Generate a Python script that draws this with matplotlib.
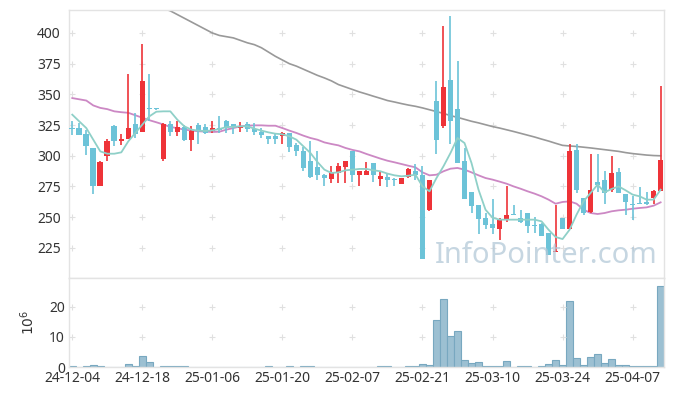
import numpy as np
import pandas as pd
import matplotlib
matplotlib.use("Agg")
import matplotlib.pyplot as plt

plt.rcParams['font.family'] = ['Noto Sans', 'DejaVu Sans']

# trading days (KRX holidays removed)
holidays = ['2024-12-25', '2024-12-31', '2025-01-01', '2025-01-27', '2025-01-28',
            '2025-01-29', '2025-01-30', '2025-03-03']
dates = [d for d in pd.bdate_range('2024-12-04', '2025-04-11') if d.strftime('%Y-%m-%d') not in holidays]

opens = [323, 323, 318, 306, 275, 300, 324, 312, 314, 326, 319, 339, 338.5, 297, 326, 319, 323.5, 313, 325, 323.5,
         320.5, 323, 328.5, 325.5, 322.5, 326, 321.5, 319.5, 316.5, 316.5, 316.5, 318.5, 308.5, 304, 296, 291, 284.5, 281.5, 286, 290.5,
         304, 284, 284, 294.5, 281.5, 283, 281.5, 277, 283, 287.5, 284, 255.5, 345, 324.5, 362, 338.5, 296, 270.5, 260, 249,
         244.5, 240, 247.5, 252.5, 249.5, 253.5, 244, 244.5, 237, 222, 249, 240, 305, 265.5, 254, 279, 280, 272.5, 286.5, 269,
         261, 261.5, 262, 266, 271]
highs = [328, 327, 321, 306, 296, 314, 325, 318, 367, 335, 391, 367, 338.5, 326.5, 328, 328, 325, 324.5, 327, 326,
         328, 332, 329.5, 326, 327.5, 327.5, 326.5, 322.5, 316.5, 318.5, 319.5, 318.5, 310.5, 307.5, 312, 303.5, 285, 292, 294.5, 296,
         304, 288, 295, 294.5, 287.5, 286, 282, 282, 290, 293, 291.5, 280, 360.5, 406, 413.5, 377.5, 306.5, 270.5, 260, 253.5,
         264.5, 249.5, 275.5, 260, 256, 253.5, 250.5, 245, 237.5, 260, 249, 310, 310, 265.5, 301.5, 301.5, 287.5, 300, 290, 269,
         267, 274.5, 270.5, 272.5, 356.5]
lows = [317, 317, 301, 269, 275, 296, 308, 308.5, 314, 314.5, 319, 328, 337.5, 296, 316, 316.5, 312, 304, 309.5, 318,
        318.5, 318.5, 318.5, 318, 319.5, 319.5, 317, 314.5, 309.5, 309.5, 309.5, 303, 299.5, 287.5, 282, 280.5, 275, 278, 278, 278,
        278.5, 275, 284, 278.5, 275, 274.5, 275, 277, 282, 280.5, 216, 255, 301.5, 322.5, 309.5, 294.5, 265, 253.5, 236, 240,
        236, 231.5, 246, 251.5, 245.5, 237, 237, 234.5, 219.5, 221.5, 240, 240, 270, 252, 253.5, 270.5, 261, 270.5, 270, 252,
        248, 260.5, 260, 261, 271]
closes = [322, 317, 308, 275, 295, 312, 312, 314, 323, 318, 361, 338, 338, 326, 319, 323.5, 313, 320, 321, 318.5,
          323, 321, 322.5, 324, 324.5, 322, 319, 317, 313.5, 313.5, 318.5, 307.5, 303.5, 290, 282.5, 284, 282, 286, 292, 296,
          284, 287.5, 287.5, 284, 283.5, 280.5, 280.5, 282, 289, 284, 216, 280, 312.5, 356, 328, 294.5, 265, 259, 248.5, 244,
          241.5, 247.5, 252, 252, 246, 243, 243, 234.5, 219.5, 222.7, 240, 304, 272, 253.5, 272.5, 276.5, 270, 286, 270, 262,
          260, 260.5, 261, 271, 296.5]
ma5 = [333.5, 328, 322.6, 313.1, 303.6, 301.7, 301.7, 302.8, 311.8, 318.6, 325.4, 332.1, 335.9, 336.2, 336.2, 329.4, 324, 321.3, 320.5, 320.2,
       320.7, 321.8, 323.4, 323.6, 324, 324, 322.1, 320.5, 319.1, 318, 317.5, 315.9, 313.1, 307.7, 302.3, 295, 288.7, 286, 286.5, 288.2,
       288.7, 289.3, 289.3, 288.2, 287.4, 285.5, 284.1, 283.3, 283.8, 284.6, 275.1, 271.1, 281.9, 291.5, 302.3, 314.5, 310.4, 294.1, 272.4, 256.1,
       249.6, 248, 248, 248, 248, 248, 248, 246.6, 239.8, 233.9, 232.2, 239.8, 252.1, 263, 269.7, 276.5, 270.3, 273, 275.1, 271.9,
       268.4, 267, 264.3, 264.3, 272.4]
ma20 = [347, 346, 345, 341, 339, 338, 336.2, 335.5, 335, 333, 331, 329, 327.3, 325.5, 323.5, 322.5, 321.3, 320.6, 320, 319.7,
        319.4, 319.6, 321.3, 322.6, 324, 324.5, 324.8, 324.8, 324.5, 324.5, 322.6, 320.5, 318.6, 316.4, 314.5, 313.1, 310.9, 309.6, 308.5, 306.4,
        304.8, 303.6, 301.5, 299.6, 297.7, 296, 294.7, 293.3, 291.9, 290.6, 286.5, 284.1, 284.6, 287.4, 289.5, 290.1, 288.7, 286.5, 284.1, 281.9,
        280.6, 279, 277.3, 275.1, 273.2, 271.1, 269.2, 267, 264.3, 261, 262.4, 262.9, 261, 256.1, 253.4, 252.6, 253.4, 254.8, 255.6, 256.1,
        256.9, 257.5, 258, 259.4, 262.1]
ma60 = [452, 450, 447, 445, 442, 440, 437, 434, 431, 429, 426, 424, 422, 420, 418, 415, 412, 409, 406, 403,
        400, 398, 397, 396, 394, 392, 390.5, 388, 384.5, 381, 378, 375, 373, 370.5, 368, 365.5, 363.4, 361, 358, 356,
        354, 352, 350.3, 348.5, 346.8, 345, 343.8, 342.5, 341.3, 340.3, 339, 337.5, 336, 334.5, 332.7, 331.3, 329.7, 328.1, 326.8, 325.3,
        323.8, 322.6, 321.2, 319.8, 318.3, 316.8, 315.3, 313.6, 312, 310.2, 308.5, 308, 307.6, 307, 306.4, 305.7, 305, 304.3, 303.6, 302.6,
        301.8, 301.2, 300.6, 300.2, 300]
volume = [0.2, 0.05, 0.2, 0.6, 0.2, 0.05, 0.05, 0.05, 0.9, 0.2, 3.8, 1.5, 0.05, 0.5, 0.2, 0.2, 0.2, 0.05, 0.05, 0.05,
          0.05, 0.05, 0.05, 0.05, 0.05, 0.05, 0.05, 0.05, 0.2, 0.05, 0.05, 0.2, 0.05, 0.2, 0.2, 0.05, 0.05, 0.05, 0.05, 0.05,
          0.05, 0.05, 0.05, 0.05, 0.2, 0.2, 0.05, 0.05, 0.2, 0.2, 1.1, 0.8, 15.6, 22.4, 10.4, 11.8, 2.4, 1.4, 1.8, 0.4,
          0.4, 0.4, 2.1, 0.1, 0.4, 0.4, 0.1, 0.4, 1.1, 2.4, 0.8, 21.8, 3.1, 0.8, 3.4, 4.4, 1.4, 2.8, 0.8, 0.8,
          0.4, 0.4, 0.4, 0.4, 26.9]

up_col = '#ee3338'
down_col = '#6cc3d8'

x = np.arange(len(closes))
o = np.array(opens); c = np.array(closes); h = np.array(highs); l = np.array(lows)
cols = [up_col if cc > oo else down_col for oo, cc in zip(o, c)]

fig = plt.figure(figsize=(6.73, 3.96), dpi=100)
ax = fig.add_axes([0.1025, 0.298, 0.884, 0.677])
axv = fig.add_axes([0.1025, 0.0732, 0.884, 0.2248], sharex=ax)

# candles
ax.vlines(x, l, h, colors=cols, linewidth=1.2, zorder=3)
body = np.maximum(np.abs(c - o), 0.7)
ax.bar(x, body, bottom=np.minimum(o, c), width=0.8, color=cols, zorder=4)

ax.plot(x, ma60, color='#999999', linewidth=1.2, zorder=2)
ax.plot(x, ma20, color='#cc88c4', linewidth=1.3, zorder=2)
ax.plot(x, ma5, color='#8fd0c8', linewidth=1.3, zorder=5)

# volume
axv.bar(x, volume, width=1.0, color='#9cc0d2', edgecolor='#78a8c0', linewidth=0.8)

tick_pos = list(range(0, len(dates), 10))
tick_labels = [dates[i].strftime('%y-%m-%d') for i in tick_pos]
price_ticks = [225, 250, 275, 300, 325, 350, 375, 400]
vol_ticks = [0, 10, 20]

ax.set_xlim(-0.47, 84.47)
ax.set_ylim(200.5, 418.8)
axv.set_ylim(0, 29.5)
ax.set_yticks(price_ticks)
axv.set_yticks(vol_ticks)
axv.set_xticks(tick_pos)
axv.set_xticklabels(tick_labels)
ax.tick_params(axis='x', labelbottom=False, length=0)
ax.tick_params(axis='y', length=0, labelsize=10, colors='#333333', pad=6)
axv.tick_params(length=0, labelsize=10, colors='#333333', pad=3)
axv.set_ylabel(r'$10^6$', fontsize=10, color='#333333', labelpad=8)

# crosshair-style grid marks
gx, gy = np.meshgrid(tick_pos, price_ticks)
ax.scatter(gx.ravel(), gy.ravel(), marker='+', s=16, color='#e0e0e0', linewidths=0.8, zorder=1)
gx, gy = np.meshgrid(tick_pos, [10, 20])
axv.scatter(gx.ravel(), gy.ravel(), marker='+', s=16, color='#e0e0e0', linewidths=0.8, zorder=1)

for a in (ax, axv):
    for s in a.spines.values():
        s.set_color('#e3e3e3')
        s.set_linewidth(1.0)

fig.text(0.812, 0.355, 'InfoPointer.com', fontsize=21, color='#b3c9d8', alpha=0.75,
         ha='center', va='center', zorder=10)

fig.savefig('out.png', dpi=100)
